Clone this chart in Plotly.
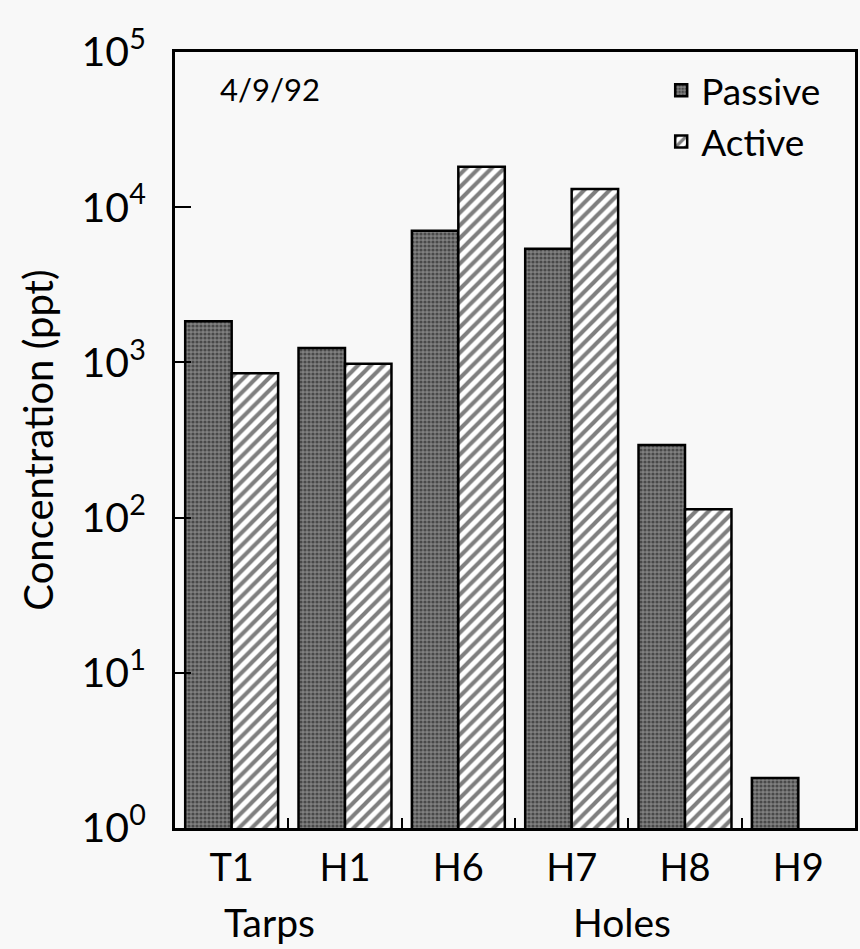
import plotly.graph_objects as go

categories = ["T1", "H1", "H6", "H7", "H8", "H9"]
passive = [1840, 1240, 7050, 5400, 294, 2.1]
active = [850, 980, 18200, 13100, 113, None]
y_tick_vals = [1, 10, 100, 1000, 10000, 100000]
y_tick_text = ["10<sup>0</sup>", "10<sup>1</sup>", "10<sup>2</sup>",
               "10<sup>3</sup>", "10<sup>4</sup>", "10<sup>5</sup>"]
group_labels = ["Tarps", "Holes"]
group_pos = [0.33, 3.44]
date_label = "4/9/92"

FONT = "Lato"
xs = list(range(len(categories)))

fig = go.Figure()
fig.add_trace(go.Bar(
    x=xs, y=passive, name="Passive",
    marker=dict(color="#707070",
                line=dict(color="black", width=2.5),
                pattern=dict(shape=".", bgcolor="#808080", fgcolor="#111111",
                             size=4, solidity=0.5)),
))
fig.add_trace(go.Bar(
    x=xs, y=active, name="Active",
    marker=dict(color="white",
                line=dict(color="black", width=2.5),
                pattern=dict(shape="/", bgcolor="white", fgcolor="black",
                             size=9, solidity=0.45)),
))

fig.update_layout(
    width=860, height=949,
    margin=dict(l=175, r=2, t=52, b=121),
    paper_bgcolor="#f8f8f8", plot_bgcolor="#f8f8f8",
    barmode="group", bargap=0.18, bargroupgap=0,
    font=dict(family=FONT, color="black", size=36),
    showlegend=True,
    legend=dict(x=0.715, y=0.99, xanchor="left", yanchor="top",
                bgcolor="rgba(0,0,0,0)", font=dict(size=37), tracegroupgap=0,
                itemwidth=30),
)
fig.update_xaxes(
    range=[-0.5, len(categories) - 0.5],
    tickmode="array", tickvals=xs, ticktext=categories,
    ticks="", showgrid=False, zeroline=False,
    showline=True, linecolor="black", linewidth=3, mirror=True,
    tickfont=dict(size=38), ticklabelstandoff=4,
    minor=dict(tickvals=[i + 0.5 for i in xs[:-1]], ticks="inside",
               ticklen=10, tickwidth=2, tickcolor="black", showgrid=False),
)
fig.update_yaxes(
    type="log", range=[0, 5],
    tickmode="array", tickvals=y_tick_vals, ticktext=y_tick_text,
    ticks="inside", ticklen=16, tickwidth=2, tickcolor="black",
    showgrid=False, zeroline=False,
    showline=True, linecolor="black", linewidth=3, mirror=True,
    tickfont=dict(size=41), ticklabelstandoff=18,
    title=dict(text="Concentration (ppt)", font=dict(size=40), standoff=16),
)

for lab, pos in zip(group_labels, group_pos):
    fig.add_annotation(x=pos, y=-0.121, xref="x", yref="paper", text=lab,
                       showarrow=False, font=dict(size=39),
                       xanchor="center", yanchor="middle")
fig.add_annotation(x=0.14, y=0.952, xref="paper", yref="paper", text=date_label,
                   showarrow=False, font=dict(size=31),
                   xanchor="center", yanchor="middle")

fig.write_html("out.html")
